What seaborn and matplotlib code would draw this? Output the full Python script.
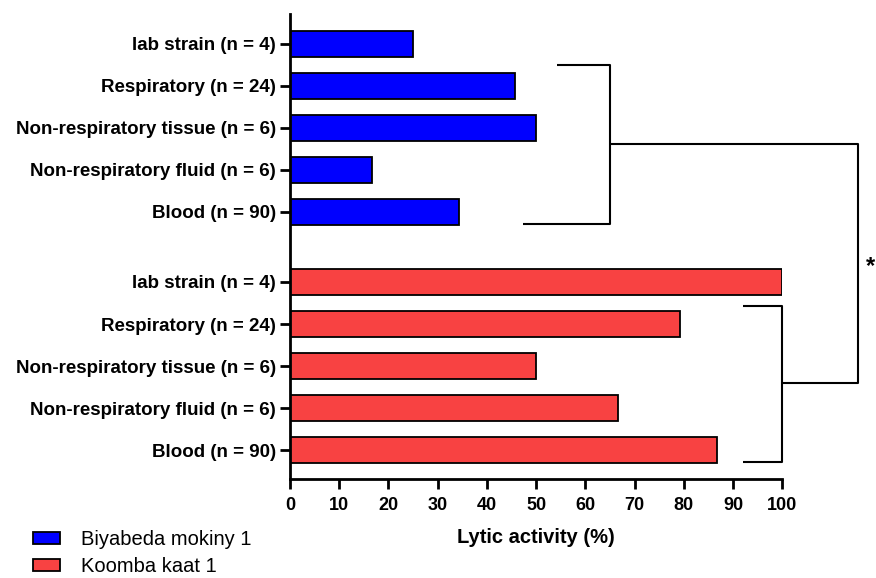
import matplotlib
matplotlib.use("Agg")
import matplotlib.pyplot as plt
from matplotlib.patches import Patch
import numpy as np
import pandas as pd
import seaborn as sns

# Sample groups and lytic activity (%) for each phage
categories = ["lab strain (n = 4)", "Respiratory (n = 24)",
              "Non-respiratory tissue (n = 6)", "Non-respiratory fluid (n = 6)",
              "Blood (n = 90)"]
phages = ["Biyabeda mokiny 1", "Koomba kaat 1"]
biyabeda_values = [25.0, 45.8, 50.0, 16.7, 34.4]
koomba_values = [100.0, 79.2, 50.0, 66.7, 86.7]
x_ticks = list(range(0, 101, 10))

colors = {"Biyabeda mokiny 1": "#0000FF", "Koomba kaat 1": "#F84242"}

# bar slots: two blocks of five with a gap between them
group_gap = 1.667
positions_a = list(range(len(categories)))
positions_b = [p + len(categories) - 1 + group_gap for p in positions_a]

df = pd.DataFrame({
    "label": categories + categories,
    "value": biyabeda_values + koomba_values,
    "phage": [phages[0]] * len(categories) + [phages[1]] * len(categories),
    "pos": positions_a + positions_b,
})

sns.set_style("ticks")
plt.rcParams["font.family"] = ["Liberation Sans", "DejaVu Sans"]
plt.rcParams["text.color"] = "black"
plt.rcParams["xtick.color"] = "black"
plt.rcParams["ytick.color"] = "black"
plt.rcParams["axes.labelcolor"] = "black"
plt.rcParams["axes.edgecolor"] = "black"

fig = plt.figure(figsize=(8.76, 5.78), dpi=100)
ax = fig.add_axes([0.331, 0.171, 0.562, 0.805])

sns.barplot(data=df, x="value", y="pos", hue="phage", orient="h",
            native_scale=True, dodge=False, width=0.62, saturation=1,
            palette=colors, edgecolor="black", linewidth=1.3,
            legend=False, ax=ax)

ax.set_xlim(0, 100)
ax.set_ylim(positions_b[-1] + 0.69, -0.71)
ax.set_xticks(x_ticks)
ax.set_xticklabels([str(t) for t in x_ticks], fontsize=13, fontweight="bold")
ax.set_yticks(df["pos"])
ax.set_yticklabels(df["label"], fontsize=13.5, fontweight="bold")
ax.set_xlabel("Lytic activity (%)", fontsize=14.5, fontweight="bold", labelpad=10)
ax.set_ylabel("")

for side in ("top", "right"):
    ax.spines[side].set_visible(False)
for side in ("left", "bottom"):
    ax.spines[side].set_linewidth(2.0)
ax.tick_params(axis="both", direction="out", length=7, width=2.0)
ax.tick_params(axis="x", pad=6)
ax.tick_params(axis="y", pad=3)

# significance brackets
lk = dict(color="black", lw=1.5, clip_on=False, solid_capstyle="butt")
ax.plot([54.3, 65, 65, 47.4], [0.5, 0.5, 4.29, 4.29], **lk)
ax.plot([92, 100, 100, 92], [6.24, 6.24, 9.95, 9.95], **lk)
ax.plot([65, 115.4, 115.4, 100], [2.39, 2.39, 8.06, 8.06], **lk)
ax.text(118.0, 5.3, "*", fontsize=17, fontweight="bold",
        ha="center", va="center", clip_on=False)

handles = [Patch(facecolor=colors[p], edgecolor="black", linewidth=1.3) for p in phages]
fig.legend(handles, phages, loc="upper left", bbox_to_anchor=(0.038, 0.083),
           frameon=False, fontsize=14.5, handlelength=1.35, handleheight=0.6,
           handletextpad=1.0, labelspacing=0.4, borderaxespad=0, borderpad=0)

fig.savefig("out.png", dpi=100)
